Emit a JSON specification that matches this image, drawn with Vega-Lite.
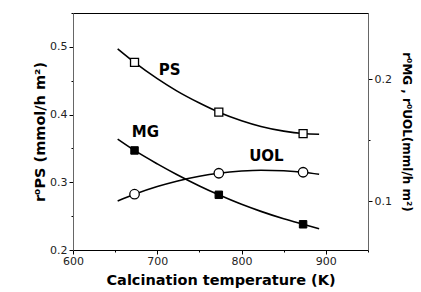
{
  "$schema": "https://vega.github.io/schema/vega-lite/v6.json",
  "width": 295,
  "height": 237,
  "autosize": "none",
  "padding": {"left": 73, "top": 13, "right": 53, "bottom": 42},
  "config": {
    "font": "DejaVu Sans",
    "view": {"stroke": "#000", "strokeWidth": 1},
    "axis": {
      "labelFont": "DejaVu Sans",
      "titleFont": "DejaVu Sans",
      "labelFontSize": 11,
      "labelColor": "#222",
      "titleFontSize": 14.5,
      "titleFontWeight": "bold",
      "titleColor": "#000",
      "grid": false,
      "domainColor": "#000",
      "tickColor": "#000"
    }
  },
  "datasets": {
    "fit": [
      {"series": "PS", "T": 653, "r": 0.497},
      {"series": "PS", "T": 673, "r": 0.477},
      {"series": "PS", "T": 700, "r": 0.453},
      {"series": "PS", "T": 723, "r": 0.435},
      {"series": "PS", "T": 750, "r": 0.417},
      {"series": "PS", "T": 773, "r": 0.4035},
      {"series": "PS", "T": 800, "r": 0.391},
      {"series": "PS", "T": 823, "r": 0.3825},
      {"series": "PS", "T": 850, "r": 0.3756},
      {"series": "PS", "T": 873, "r": 0.372},
      {"series": "PS", "T": 892, "r": 0.371},
      {"series": "MG", "T": 653, "r": 0.151},
      {"series": "MG", "T": 673, "r": 0.1417},
      {"series": "MG", "T": 700, "r": 0.1307},
      {"series": "MG", "T": 723, "r": 0.122},
      {"series": "MG", "T": 750, "r": 0.1126},
      {"series": "MG", "T": 773, "r": 0.1053},
      {"series": "MG", "T": 800, "r": 0.0975},
      {"series": "MG", "T": 823, "r": 0.0917},
      {"series": "MG", "T": 850, "r": 0.0856},
      {"series": "MG", "T": 873, "r": 0.0811},
      {"series": "MG", "T": 892, "r": 0.0775},
      {"series": "UOL", "T": 653, "r": 0.1003},
      {"series": "UOL", "T": 673, "r": 0.1058},
      {"series": "UOL", "T": 700, "r": 0.1121},
      {"series": "UOL", "T": 723, "r": 0.1165},
      {"series": "UOL", "T": 750, "r": 0.1205},
      {"series": "UOL", "T": 773, "r": 0.123},
      {"series": "UOL", "T": 800, "r": 0.1248},
      {"series": "UOL", "T": 823, "r": 0.1255},
      {"series": "UOL", "T": 850, "r": 0.125},
      {"series": "UOL", "T": 873, "r": 0.1238},
      {"series": "UOL", "T": 892, "r": 0.1221}
    ],
    "meas": [
      {"series": "PS", "T": 673, "r": 0.477},
      {"series": "PS", "T": 773, "r": 0.4035},
      {"series": "PS", "T": 873, "r": 0.372},
      {"series": "MG", "T": 673, "r": 0.1417},
      {"series": "MG", "T": 773, "r": 0.1053},
      {"series": "MG", "T": 873, "r": 0.0811},
      {"series": "UOL", "T": 673, "r": 0.1058},
      {"series": "UOL", "T": 773, "r": 0.123},
      {"series": "UOL", "T": 873, "r": 0.1238}
    ],
    "labels": [
      {"label": "PS", "T": 714.6, "r": 0.4655},
      {"label": "MG", "T": 686, "r": 0.374},
      {"label": "UOL", "T": 829.5, "r": 0.3386}
    ]
  },
  "encoding": {
    "x": {
      "field": "T",
      "type": "quantitative",
      "scale": {"domain": [600, 950], "nice": false, "zero": false},
      "axis": {
        "values": [600, 650, 700, 750, 800, 850, 900, 950],
        "labelExpr": "datum.value % 100 === 0 ? datum.label : ''",
        "tickSize": {"condition": {"test": "datum.value % 100 !== 0", "value": 2}, "value": 4},
        "labelFlush": false,
        "labelPadding": 1,
        "titlePadding": 7,
        "title": "Calcination temperature (K)"
      }
    }
  },
  "layer": [
    {
      "encoding": {
        "y": {
          "field": "r",
          "type": "quantitative",
          "scale": {"domain": [0.2, 0.55], "nice": false, "zero": false},
          "axis": {
            "orient": "left",
            "values": [0.2, 0.25, 0.3, 0.35, 0.4, 0.45, 0.5, 0.55],
            "labelExpr": "round(datum.value * 100) % 10 === 0 ? format(datum.value, '.1f') : ''",
            "tickSize": {"condition": {"test": "round(datum.value * 100) % 10 !== 0", "value": 2}, "value": 4},
            "domainColor": "#666",
            "labelPadding": 2,
            "titlePadding": 2,
            "title": "r⁰PS (mmol/h m²)"
          }
        }
      },
      "layer": [
        {
          "data": {"name": "fit"},
          "transform": [{"filter": "datum.series === 'PS'"}],
          "mark": {"type": "line", "interpolate": "monotone", "color": "#000", "strokeWidth": 1.6}
        },
        {
          "data": {"name": "meas"},
          "transform": [{"filter": "datum.series === 'PS'"}],
          "mark": {"type": "point", "shape": "square", "filled": true, "fill": "#fff", "stroke": "#000", "strokeWidth": 1.3, "size": 64, "opacity": 1}
        },
        {
          "data": {"name": "labels"},
          "mark": {"type": "text", "font": "DejaVu Sans", "fontSize": 15, "fontWeight": "bold", "color": "#000", "align": "center", "baseline": "middle"},
          "encoding": {"text": {"field": "label"}}
        }
      ]
    },
    {
      "encoding": {
        "y": {
          "field": "r",
          "type": "quantitative",
          "scale": {"domain": [0.06, 0.2545], "nice": false, "zero": false},
          "axis": {
            "orient": "right",
            "values": [0.1, 0.15, 0.2],
            "labelExpr": "round(datum.value * 100) % 10 === 0 ? format(datum.value, '.1f') : ''",
            "tickSize": {"condition": {"test": "round(datum.value * 100) % 10 !== 0", "value": 2}, "value": 4},
            "domainColor": "#666",
            "labelPadding": 2,
            "titlePadding": 8,
            "titleAngle": 90,
            "titleFontSize": 12,
            "title": "r⁰MG , r⁰UOL(mml/h m²)"
          }
        }
      },
      "layer": [
        {
          "data": {"name": "fit"},
          "transform": [{"filter": "datum.series === 'MG'"}],
          "mark": {"type": "line", "interpolate": "monotone", "color": "#000", "strokeWidth": 1.6}
        },
        {
          "data": {"name": "fit"},
          "transform": [{"filter": "datum.series === 'UOL'"}],
          "mark": {"type": "line", "interpolate": "monotone", "color": "#000", "strokeWidth": 1.6}
        },
        {
          "data": {"name": "meas"},
          "transform": [{"filter": "datum.series === 'MG'"}],
          "mark": {"type": "point", "shape": "square", "filled": true, "fill": "#000", "stroke": "#000", "strokeWidth": 1, "size": 56, "opacity": 1}
        },
        {
          "data": {"name": "meas"},
          "transform": [{"filter": "datum.series === 'UOL'"}],
          "mark": {"type": "point", "shape": "circle", "filled": true, "fill": "#fff", "stroke": "#000", "strokeWidth": 1.3, "size": 90, "opacity": 1}
        }
      ]
    }
  ],
  "resolve": {"scale": {"y": "independent"}}
}
